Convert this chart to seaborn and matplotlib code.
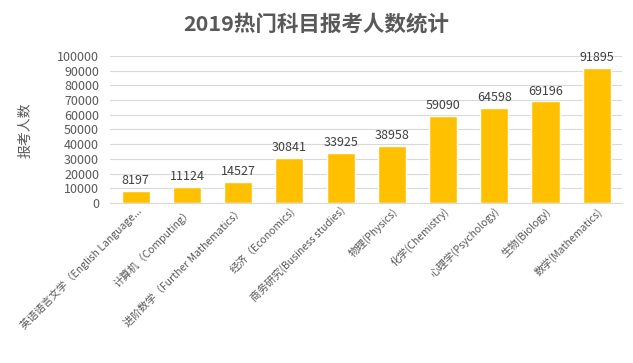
import matplotlib
matplotlib.use("Agg")
import matplotlib.pyplot as plt
import seaborn as sns
import pandas as pd

subjects = ['英语语言文学（English Language...', '计算机（Computing）', '进阶数学（Further Mathematics）',
            '经济（Economics)', '商务研究(Business studies)', '物理(Physics)', '化学(Chemistry)',
            '心理学(Psychology)', '生物(Biology)', '数学(Mathematics)']
counts = [8197, 11124, 14527, 30841, 33925, 38958, 59090, 64598, 69196, 91895]
y_ticks = list(range(0, 100001, 10000))

df = pd.DataFrame({'subject': subjects, 'count': counts})

sns.set_style('white')
plt.rcParams['font.family'] = ['Noto Sans CJK SC', 'DejaVu Sans']

fig = plt.figure(figsize=(6.33, 3.63), dpi=100)
ax = fig.add_axes([0.174, 0.441, 0.809, 0.405])

sns.barplot(data=df, x='subject', y='count', color='#FFC000', width=0.55,
            saturation=1, ax=ax, zorder=3)

ax.set_ylim(0, 100000)
ax.set_xlim(-0.5, 9.5)
ax.set_yticks(y_ticks)
ax.set_yticklabels([str(v) for v in y_ticks], fontsize=9, color='#595959')
ax.yaxis.grid(True, color='#D9D9D9', linewidth=0.8, zorder=0)
ax.tick_params(axis='y', length=0, pad=8)
ax.tick_params(axis='x', length=0, pad=2)
ax.set_xticks(range(len(subjects)))
ax.set_xticklabels(subjects, rotation=45, ha='right', rotation_mode='anchor',
                   fontsize=7.5, color='#595959')
ax.set_xlabel('')
ax.set_ylabel('')
for s in ['top', 'right', 'left']:
    ax.spines[s].set_visible(False)
ax.spines['bottom'].set_color('#D9D9D9')

for i, v in enumerate(counts):
    ax.text(i, v + 2500, str(v), ha='center', va='bottom', fontsize=9, color='#404040')

fig.text(0.04, 0.64, '报考人数', rotation=90, ha='center', va='center', fontsize=10, color='#595959')
fig.text(0.5, 0.935, '2019热门科目报考人数统计', ha='center', va='center',
         fontsize=15.5, fontweight='bold', color='#595959')

fig.savefig('out.png', dpi=100)
